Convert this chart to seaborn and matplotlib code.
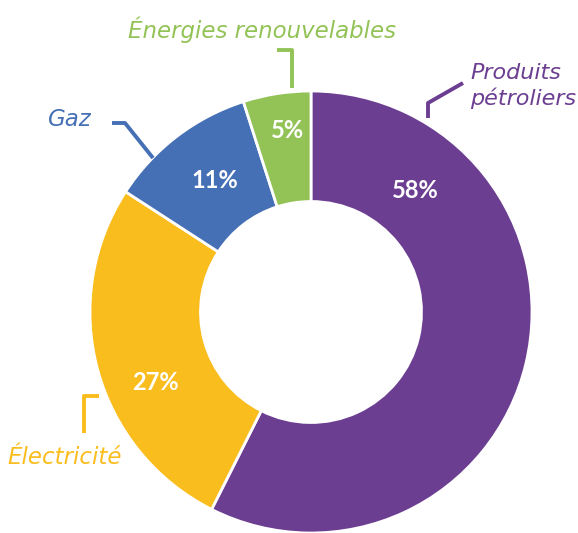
import matplotlib
matplotlib.use("Agg")
import matplotlib.pyplot as plt
import seaborn as sns

sns.set_theme(style="white")
plt.rcParams['font.family'] = ['Lato', 'DejaVu Sans']

categories = ["Produits pétroliers", "Électricité", "Gaz", "Énergies renouvelables"]
values = [58, 27, 11, 5]
pct_labels = ["58%", "27%", "11%", "5%"]
colors = ["#6b3e91", "#f9bd1e", "#4670b5", "#93c357"]

W, H = 578, 533
fig = plt.figure(figsize=(W / 100, H / 100), dpi=100)
ax = fig.add_axes([0, 0, 1, 1])

cx, cy, R = 311, H - 312, 221
wedges, texts = ax.pie(values, colors=colors, startangle=90, counterclock=False,
                       center=(cx, cy), radius=R,
                       wedgeprops=dict(width=R * 0.5, edgecolor="white", linewidth=2))
ax.set_xlim(0, W)
ax.set_ylim(0, H)
ax.set_aspect("equal")
ax.axis("off")

# percent labels (pixel positions from top-left)
pct_pos = [(415, 190), (155, 383), (215, 180), (287, 130)]
for (x, y), t in zip(pct_pos, pct_labels):
    ax.text(x, H - y, t, color="white", fontsize=17, fontweight="bold",
            ha="center", va="center")

# category labels
lab_specs = [
    ("Produits\npétroliers", 470, 86, "left", colors[0]),
    ("Électricité", 65, 457, "center", colors[1]),
    ("Gaz", 70, 119, "center", colors[2]),
    ("Énergies renouvelables", 262, 30, "center", colors[3]),
]
for txt, x, y, ha, c in lab_specs:
    ax.text(x, H - y, txt, color=c, fontsize=16.5 if ha == "center" else 16,
            style="italic", ha=ha, va="center", multialignment="left",
            linespacing=1.3, family=["DejaVu Sans"])

# leader lines
leaders = [
    ([428, 428, 463], [118, 103, 83], colors[0]),
    ([84, 84, 99], [433, 396, 396], colors[1]),
    ([112, 125, 153], [123, 123, 158], colors[2]),
    ([277, 292, 292], [50, 50, 88], colors[3]),
]
for xs, ys, c in leaders:
    ax.plot(xs, [H - y for y in ys], color=c, linewidth=2.8, solid_capstyle="butt")

fig.savefig("out.png", dpi=100)
